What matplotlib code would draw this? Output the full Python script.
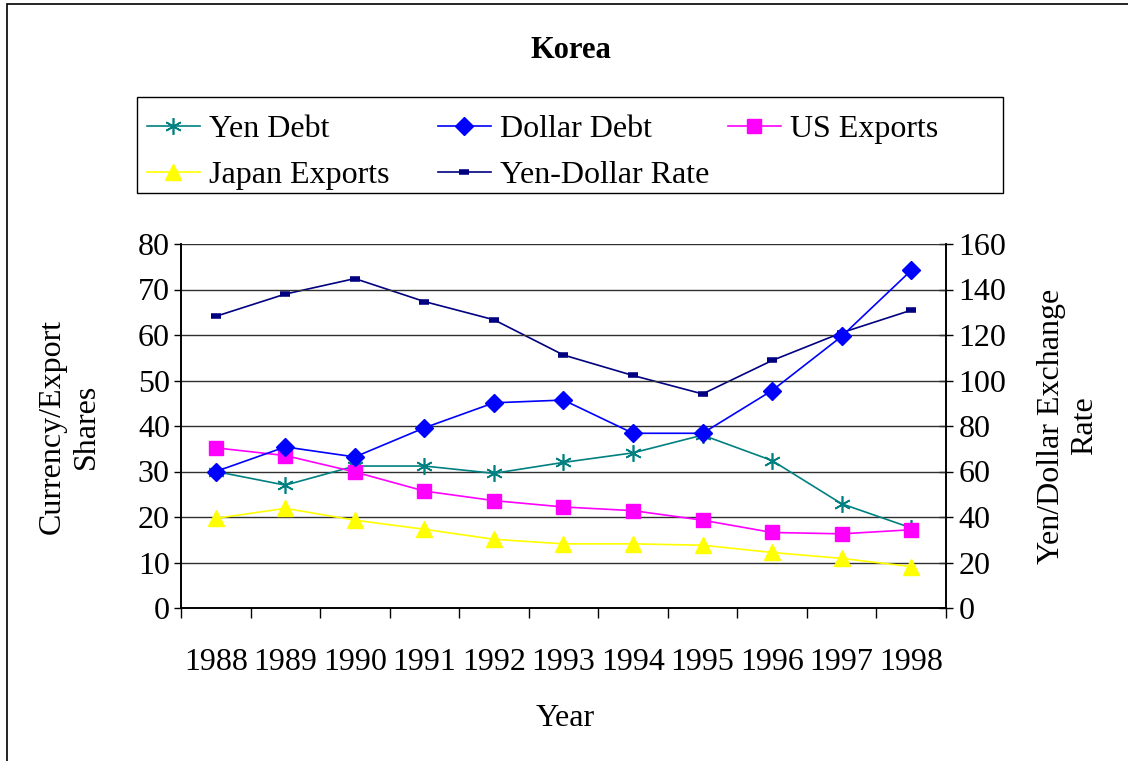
import matplotlib
matplotlib.use("Agg")
import matplotlib.pyplot as plt
from matplotlib.lines import Line2D
from matplotlib.patches import Rectangle
import numpy as np

years = ["1988", "1989", "1990", "1991", "1992", "1993", "1994", "1995", "1996", "1997", "1998"]
yen_debt = [30.0, 27.0, 31.2, 31.2, 29.6, 32.0, 34.1, 38.0, 32.4, 22.9, 17.6]
dollar_debt = [30.0, 35.4, 33.2, 39.6, 45.1, 45.7, 38.4, 38.4, 47.8, 59.7, 74.2]
us_exports = [35.2, 33.5, 29.9, 25.7, 23.6, 22.2, 21.4, 19.3, 16.6, 16.3, 17.2]
japan_exports = [19.7, 21.9, 19.3, 17.3, 15.1, 14.1, 14.1, 13.8, 12.2, 10.9, 9.1]
yen_dollar_rate = [128.2, 138.0, 144.8, 134.7, 126.7, 111.2, 102.2, 94.1, 108.8, 121.0, 130.9]

W, H = 1128, 761
plt.rcParams['font.family'] = ['Liberation Serif', 'DejaVu Serif']
fig = plt.figure(figsize=(W / 100, H / 100), dpi=100)

def fx(px):
    return px / W

def fy(py):
    return 1 - py / H

FS = 23

# outer border
fig.patches.append(Rectangle((fx(7), fy(790)), fx(1150) - fx(7), fy(4) - fy(790),
                             transform=fig.transFigure, fill=False, edgecolor='black',
                             linewidth=1.2, clip_on=False))

ax = fig.add_axes([fx(181), fy(608), fx(946) - fx(181), fy(244) - fy(608)])
ax2 = ax.twinx()

x = np.arange(len(years))
lw = 1.2
l_yen, = ax.plot(x, yen_debt, color='#008080', lw=lw, marker=(6, 2, 0), markersize=12,
                 markeredgewidth=1.2, label='Yen Debt', zorder=5)
l_dol, = ax.plot(x, dollar_debt, color='#0000FF', lw=lw, marker='D', markersize=9.5,
                 label='Dollar Debt', zorder=6)
l_us, = ax.plot(x, us_exports, color='#FF00FF', lw=lw, marker='s', markersize=10.5,
                label='US Exports', zorder=5)
l_jp, = ax.plot(x, japan_exports, color='#FFFF00', lw=lw, marker='^', markersize=11.5,
                label='Japan Exports', zorder=5)
l_ydr, = ax2.plot(x, yen_dollar_rate, color='#000080', lw=lw, marker='_', markersize=7,
                  markeredgewidth=4, label='Yen-Dollar Rate', zorder=5)

ax.set_zorder(ax2.get_zorder() + 1)
ax.patch.set_visible(False)

ax.set_xlim(-0.5, len(years) - 0.5)
ax.set_ylim(0, 80)
ax2.set_ylim(0, 160)
ax.set_yticks(np.arange(0, 81, 10))
ax2.set_yticks(np.arange(0, 161, 20))

ax.yaxis.grid(True, color='#303030', linewidth=1.0)
ax.set_axisbelow(True)

ax.set_xticks(np.arange(len(years) + 1) - 0.5)
ax.set_xticklabels([])
ax.set_xticks(x, minor=True)
ax.set_xticklabels(years, minor=True)
ax.tick_params(axis='x', which='major', direction='out', length=7, width=1, color='black')
ax.tick_params(axis='x', which='minor', length=0, pad=29, labelsize=FS)
ax.tick_params(axis='y', direction='out', length=5, width=1, labelsize=FS, pad=3)
ax2.tick_params(axis='y', direction='inout', length=10, width=1, labelsize=FS, pad=4)

for a in (ax, ax2):
    a.spines['top'].set_visible(False)
    for s in ('left', 'right', 'bottom'):
        a.spines[s].set_color('black')
        a.spines[s].set_linewidth(1.2)

fig.text(fx(571), fy(50), 'Korea', ha='center', va='center', fontsize=22, fontweight='bold')
fig.text(fx(565), fy(719), 'Year', ha='center', va='center', fontsize=FS)
fig.text(fx(69), fy(426), 'Currency/Export\nShares', ha='center', va='center',
         rotation=90, fontsize=FS, multialignment='center', linespacing=1.25)
fig.text(fx(1068), fy(426), 'Yen/Dollar Exchange\nRate', ha='center', va='center',
         rotation=90, fontsize=FS, multialignment='center', linespacing=1.2)

# legend box
fig.patches.append(Rectangle((fx(137), fy(193)), fx(1003) - fx(137), fy(97) - fy(193),
                             transform=fig.transFigure, fill=True, facecolor='white',
                             edgecolor='black', linewidth=1.0))

cols = [([l_yen, l_jp], 147), ([l_dol, l_ydr], 438), ([l_us], 728)]
for handles, xpos in cols:
    leg = fig.legend(handles=handles, loc='upper left', bbox_to_anchor=(fx(xpos), fy(115)),
                     frameon=False, fontsize=FS, handlelength=1.65, handletextpad=0.3,
                     labelspacing=0.5, borderpad=0, borderaxespad=0)

fig.savefig('out.png', dpi=100)
